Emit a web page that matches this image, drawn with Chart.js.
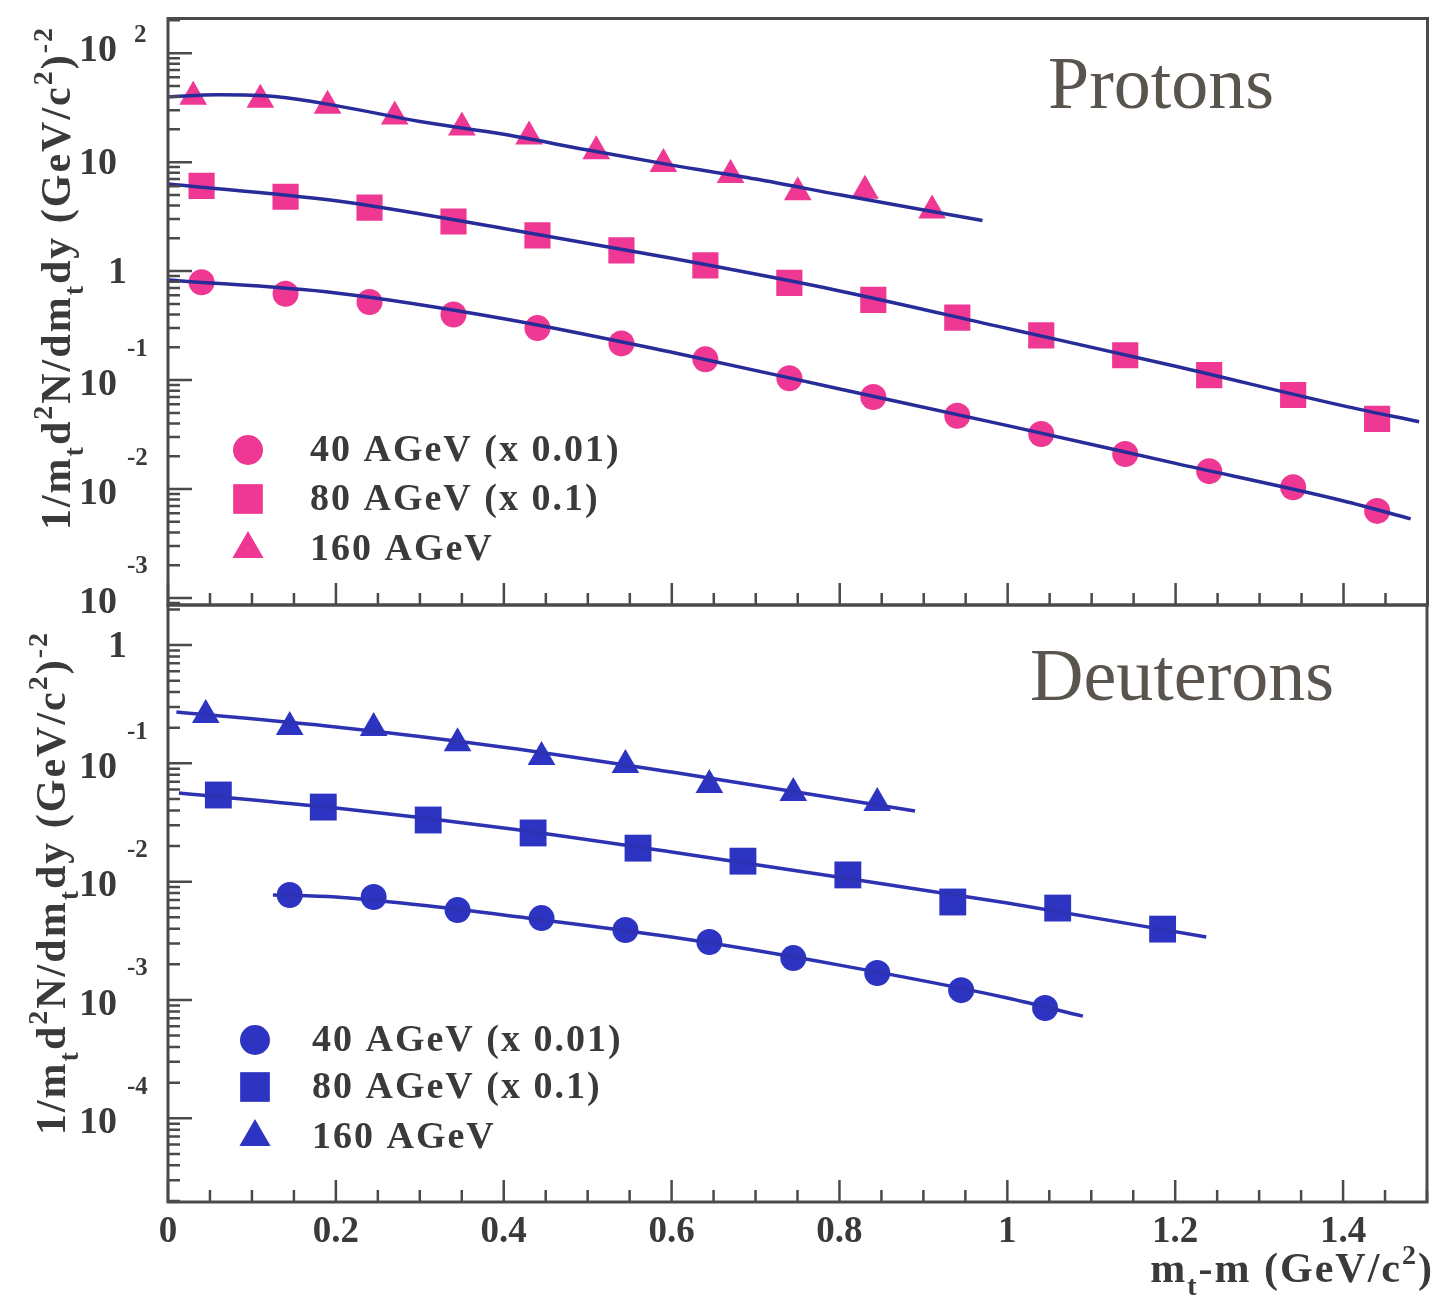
<!DOCTYPE html>
<html>
<head>
<meta charset="utf-8">
<script src="https://cdn.jsdelivr.net/npm/chart.js@4.4.1/dist/chart.umd.min.js"></script>
<style>
  html, body { margin: 0; padding: 0; background: #fff; }
  #wrap { position: relative; width: 1446px; height: 1309px; }
  #wrap canvas { position: absolute; left: 0; top: 0; }
</style>
</head>
<body>
<div id="wrap">
  <canvas id="protonChart" width="1446" height="1309"></canvas>
  <canvas id="deuteronChart" width="1446" height="1309"></canvas>
</div>
<script>
// ---- data: m_t - m (GeV/c^2) and 1/m_t d2N/dm_t dy ----
// protons
var pX160 = [0.03, 0.11, 0.19, 0.27, 0.35, 0.43, 0.51, 0.59, 0.67, 0.75, 0.83, 0.91];
var pY160 = [39.8, 37.4, 33.0, 26.2, 20.8, 17.2, 12.6, 9.6, 7.6, 5.3, 5.45, 3.6];
var pX80 = [0.04, 0.14, 0.24, 0.34, 0.44, 0.54, 0.64, 0.74, 0.84, 0.94, 1.04, 1.14, 1.24, 1.34, 1.44];
var pY80 = [6.05, 4.81, 3.82, 2.85, 2.13, 1.55, 1.13, 0.78, 0.545, 0.374, 0.257, 0.169, 0.111, 0.073, 0.044];
var pX40 = [0.04, 0.14, 0.24, 0.34, 0.44, 0.54, 0.64, 0.74, 0.84, 0.94, 1.04, 1.14, 1.24, 1.34, 1.44];
var pY40 = [0.79, 0.62, 0.52, 0.40, 0.30, 0.217, 0.155, 0.104, 0.070, 0.047, 0.032, 0.021, 0.0146, 0.0104, 0.0063];
// proton fits
var pFitX160 = [0, 0.06, 0.13, 0.2, 0.3, 0.4, 0.5, 0.6, 0.7, 0.8, 0.97];
var pFitY160 = [39.8, 41.5, 39.8, 33.0, 23.6, 18.0, 12.9, 9.39, 7.0, 5.01, 2.91];
var pFitX80 = [0, 0.2, 0.4, 0.6, 0.8, 1.0, 1.2, 1.4, 1.49];
var pFitY80 = [6.31, 4.42, 2.46, 1.31, 0.658, 0.297, 0.134, 0.058, 0.0415];
var pFitX40 = [0, 0.2, 0.4, 0.6, 0.8, 1.0, 1.2, 1.4, 1.48];
var pFitY40 = [0.828, 0.631, 0.366, 0.18, 0.0828, 0.0382, 0.0172, 0.00778, 0.00533];

// deuterons
var dX160 = [0.045, 0.145, 0.245, 0.345, 0.445, 0.545, 0.645, 0.745, 0.845];
var dY160 = [0.256, 0.203, 0.199, 0.148, 0.113, 0.0968, 0.0656, 0.0561, 0.0462];
var dX80 = [0.06, 0.185, 0.31, 0.435, 0.56, 0.685, 0.81, 0.935, 1.06, 1.185];
var dY80 = [0.054, 0.0427, 0.0332, 0.0258, 0.0192, 0.0149, 0.0114, 0.00673, 0.00598, 0.00397];
var dX40 = [0.145, 0.245, 0.345, 0.445, 0.545, 0.645, 0.745, 0.845, 0.945, 1.045];
var dY40 = [0.00771, 0.00741, 0.00575, 0.00492, 0.0039, 0.00309, 0.00226, 0.00169, 0.00121, 0.000855];
// deuteron fits
var dFitX160 = [0.01, 0.2, 0.4, 0.6, 0.89];
var dFitY160 = [0.272, 0.203, 0.137, 0.0844, 0.0395];
var dFitX80 = [0.013, 0.2, 0.4, 0.6, 0.8, 1.0, 1.237];
var dFitY80 = [0.0561, 0.0419, 0.0284, 0.0178, 0.0109, 0.00659, 0.0034];
var dFitX40 = [0.125, 0.2, 0.3, 0.4, 0.6, 0.8, 1.0, 1.09];
var dFitY40 = [0.00771, 0.00741, 0.00634, 0.00522, 0.0034, 0.00197, 0.00104, 0.00073];

var legendLabels = ['40 AGeV (x 0.01)', '80 AGeV (x 0.1)', '160 AGeV'];
var xTickLabels = ['0', '0.2', '0.4', '0.6', '0.8', '1', '1.2', '1.4'];

var serif = "'Liberation Serif', 'DejaVu Serif', serif";
var ink = '#3a3a3a';
var frameColor = '#4a4a4a';

function pts(xs, ys) {
  return xs.map(function (x, i) { return { x: x, y: ys[i] }; });
}
function markerSet(label, xs, ys, style, r, color) {
  return {
    label: label, data: pts(xs, ys), showLine: false,
    pointStyle: style, pointRadius: r, pointHoverRadius: r,
    backgroundColor: color, borderWidth: 0, order: 1
  };
}
function fitSet(xs, ys, color) {
  return {
    label: 'fit', data: pts(xs, ys), showLine: true, pointRadius: 0,
    borderColor: color, borderWidth: 3.5, cubicInterpolationMode: 'monotone',
    order: 0
  };
}

// text with sub/superscripts: parts = [[text, 0|1|-1], ...]
function drawRich(ctx, parts, x, y, size, draw) {
  var cx = x;
  parts.forEach(function (p) {
    var fs = p[1] === 0 ? size : Math.round(size * 0.66);
    ctx.font = 'bold ' + fs + 'px ' + serif;
    var dy = p[1] === 1 ? -size * 0.42 : (p[1] === -1 ? size * 0.3 : 0);
    if (draw) ctx.fillText(p[0], cx, y + dy);
    cx += ctx.measureText(p[0]).width;
  });
  return cx - x;
}

var yTitle = [['1/m', 0], ['t', -1], ['d', 0], ['2', 1], ['N/dm', 0], ['t', -1],
  ['dy (GeV/c', 0], ['2', 1], [')', 0], ['-2', 1]];
var xTitle = [['m', 0], ['t', -1], ['-m (GeV/c', 0], ['2', 1], [')', 0]];

function isMajorX(v) {
  return Math.abs(v / 0.2 - Math.round(v / 0.2)) < 1e-6;
}

var panelPlugin = {
  id: 'panel',
  afterDraw: function (chart, args, o) {
    var ctx = chart.ctx, a = chart.chartArea;
    var xs = chart.scales.x, ys = chart.scales.y;
    ctx.save();
    ctx.strokeStyle = frameColor;
    ctx.lineWidth = 2.5;
    ctx.beginPath();
    xs.ticks.forEach(function (t) {
      var px = xs.getPixelForValue(t.value);
      var len = isMajorX(t.value) ? 22 : 12;
      ctx.moveTo(px, a.bottom);
      ctx.lineTo(px, a.bottom - len);
    });
    ys.ticks.forEach(function (t) {
      var py = ys.getPixelForValue(t.value);
      var e = Math.round(Math.log10(t.value));
      var len = Math.abs(t.value / Math.pow(10, e) - 1) < 1e-6 ? 24 : 12;
      ctx.moveTo(a.left, py);
      ctx.lineTo(a.left + len, py);
    });
    ctx.stroke();
    ctx.lineWidth = 3;
    ctx.strokeRect(a.left, a.top, a.right - a.left, a.bottom - a.top);

    // y tick labels, 10 with exponent
    ctx.fillStyle = ink;
    ctx.textBaseline = 'middle';
    ys.ticks.forEach(function (t) {
      var e = Math.round(Math.log10(t.value));
      if (Math.abs(t.value / Math.pow(10, e) - 1) > 1e-6) return;
      var py = ys.getPixelForValue(t.value);
      ctx.textAlign = 'right';
      ctx.font = 'bold 38px ' + serif;
      if (e === 0) {
        ctx.fillText('1', 127, py + 2);
      } else if (e === 1) {
        ctx.fillText('10', 117, py + 2);
      } else {
        ctx.fillText('10', 117, py + (e > 0 ? -2 : 5));
        ctx.textAlign = 'left';
        ctx.font = 'bold 25px ' + serif;
        ctx.fillText(String(e), e > 0 ? 134 : 127, py + (e > 0 ? -18 : -31));
      }
    });

    // panel name
    ctx.textAlign = 'left';
    ctx.textBaseline = 'alphabetic';
    ctx.fillStyle = '#5a544e';
    ctx.font = '74px ' + serif;
    ctx.fillText(o.name, o.nameX, o.nameY);

    // legend
    ctx.letterSpacing = '2px';
    o.legend.forEach(function (it, i) {
      var ds = chart.data.datasets[it.ds];
      ctx.fillStyle = ds.backgroundColor;
      Chart.helpers.drawPoint(ctx, { pointStyle: ds.pointStyle, radius: it.r, rotation: 0, borderWidth: 0 }, o.legX, it.y);
      ctx.fillStyle = ink;
      ctx.font = 'bold 38px ' + serif;
      ctx.textBaseline = 'middle';
      ctx.fillText(legendLabels[i], o.legTextX, it.y + 1);
    });

    // rotated y title
    ctx.textBaseline = 'alphabetic';
    ctx.letterSpacing = '2px';
    var w = drawRich(ctx, yTitle, 0, 0, 42, false);
    ctx.translate(o.titleX, o.titleY);
    ctx.rotate(-Math.PI / 2);
    drawRich(ctx, yTitle, -w / 2, 0, 42, true);
    ctx.restore();

    if (o.xTitle) {
      ctx.save();
      ctx.fillStyle = ink;
      ctx.letterSpacing = '2px';
      ctx.textBaseline = 'alphabetic';
      var xw = drawRich(ctx, xTitle, 0, 0, 42, false);
      drawRich(ctx, xTitle, 1434 - xw, 1282, 42, true);
      ctx.restore();
    }
  }
};

function buildX(scale) {
  var t = [];
  for (var i = 0; i <= 30; i++) t.push({ value: Math.round(i * 5) / 100 });
  scale.ticks = t;
}
function buildLogY(scale) {
  var t = [];
  for (var e = -6; e <= 3; e++) {
    for (var m = 1; m <= 9; m++) {
      var v = m * Math.pow(10, e);
      if (v >= scale.min && v <= scale.max) t.push({ value: v });
    }
  }
  scale.ticks = t;
}

function makeChart(id, datasets, cfg) {
  return new Chart(document.getElementById(id), {
    type: 'scatter',
    data: { datasets: datasets },
    options: {
      responsive: false,
      animation: false,
      devicePixelRatio: 1,
      layout: { padding: cfg.padding },
      plugins: { legend: { display: false }, tooltip: { enabled: false }, panel: cfg.panel },
      scales: {
        x: {
          type: 'linear', min: 0, max: 1.5,
          afterBuildTicks: buildX,
          afterFit: function (s) { s.height = cfg.xHeight; },
          grid: { display: false, drawTicks: false },
          border: { display: false },
          ticks: {
            display: cfg.xLabels, autoSkip: false, maxRotation: 0, padding: 8,
            color: ink, font: { family: serif, size: 37, weight: 'bold' },
            callback: function (v) {
              return isMajorX(v) ? xTickLabels[Math.round(v / 0.2)] : '';
            }
          }
        },
        y: {
          type: 'logarithmic', min: cfg.yMin, max: cfg.yMax,
          afterBuildTicks: buildLogY,
          afterFit: function (s) { s.width = 0; },
          grid: { display: false, drawTicks: false },
          border: { display: false },
          ticks: { display: false }
        }
      }
    },
    plugins: [panelPlugin]
  });
}

var pink = '#ef3893';
var navy = '#282c98';
var blue = '#2e34c2';
var blueFit = '#2d32b2';

makeChart('protonChart', [
  fitSet(pFitX40, pFitY40, navy),
  fitSet(pFitX80, pFitY80, navy),
  fitSet(pFitX160, pFitY160, navy),
  markerSet(legendLabels[0], pX40, pY40, 'circle', 13, pink),
  markerSet(legendLabels[1], pX80, pY80, 'rect', 18.5, pink),
  markerSet(legendLabels[2], pX160, pY160, 'triangle', 16, pink)
], {
  padding: { left: 168, right: 16, top: 13, bottom: 1309 - 605 },
  xHeight: 0, xLabels: false,
  yMin: 0.000863, yMax: 208,
  panel: {
    name: 'Protons', nameX: 1048, nameY: 108,
    legX: 248, legTextX: 310,
    legend: [{ ds: 3, r: 15, y: 450 }, { ds: 4, r: 21, y: 499 }, { ds: 5, r: 18, y: 549 }],
    titleX: 70, titleY: 278, xTitle: false
  }
});

makeChart('deuteronChart', [
  fitSet(dFitX40, dFitY40, blueFit),
  fitSet(dFitX80, dFitY80, blueFit),
  fitSet(dFitX160, dFitY160, blueFit),
  markerSet(legendLabels[0], dX40, dY40, 'circle', 13, blue),
  markerSet(legendLabels[1], dX80, dY80, 'rect', 19, blue),
  markerSet(legendLabels[2], dX160, dY160, 'triangle', 16, blue)
], {
  padding: { left: 168, right: 16, top: 605, bottom: 0 },
  xHeight: 107, xLabels: true,
  yMin: 1.96e-5, yMax: 2.18,
  panel: {
    name: 'Deuterons', nameX: 1030, nameY: 700,
    legX: 255, legTextX: 312,
    legend: [{ ds: 3, r: 15, y: 1040 }, { ds: 4, r: 21, y: 1087 }, { ds: 5, r: 18, y: 1137 }],
    titleX: 65, titleY: 883, xTitle: true
  }
});
</script>
</body>
</html>
